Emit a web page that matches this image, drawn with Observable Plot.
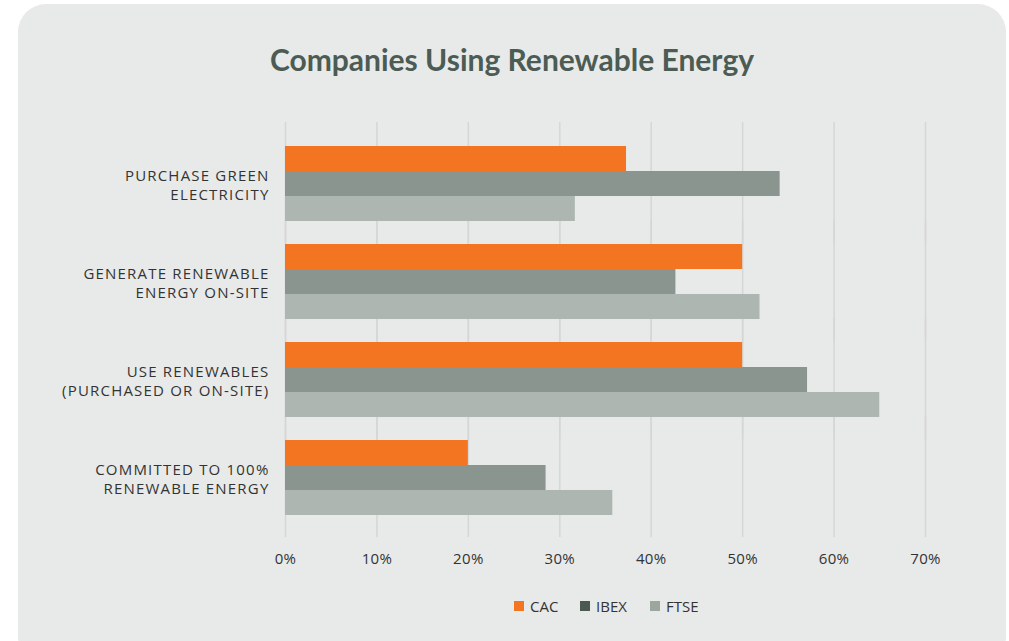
<!DOCTYPE html>
<html>
<head>
<meta charset="utf-8">
<script src="https://cdn.jsdelivr.net/npm/d3@7"></script>
<script src="https://cdn.jsdelivr.net/npm/@observablehq/plot@0.6"></script>
<style>
  html, body { margin: 0; padding: 0; background: #ffffff; }
  body { width: 1009px; height: 641px; position: relative; overflow: hidden; font-family: "Open Sans", sans-serif; }
  #card { position: absolute; left: 18px; top: 4px; width: 988px; height: 660px; border-radius: 28px; background: #E8EAE9; }
  #title { position: absolute; left: 18px; width: 988px; top: 39px; text-align: center; font-family: Lato, sans-serif; font-weight: 700; font-size: 30px; color: #4C5C54; line-height: 40px; margin: 0; }
  #chart { position: absolute; left: 0; top: 100px; }
  #legend { position: absolute; top: 596px; left: 0; width: 1009px; height: 20px; }
  .item { position: absolute; top: 0; display: flex; align-items: center; height: 20px; font-size: 15px; color: #333; }
  .sw { width: 10px; height: 10px; margin-right: 6px; }
  svg g[aria-label="fy-axis tick label"] text { letter-spacing: 1.2px; }
  svg g[aria-label="x-axis tick label"] text { letter-spacing: 0.3px; }
</style>
</head>
<body>
<div id="card"></div>
<h1 id="title">Companies Using Renewable Energy</h1>
<div id="chart"></div>
<div id="legend"></div>
<script>
const categories = [
  "PURCHASE GREEN\nELECTRICITY",
  "GENERATE RENEWABLE\nENERGY ON-SITE",
  "USE RENEWABLES\n(PURCHASED OR ON-SITE)",
  "COMMITTED TO 100%\nRENEWABLE ENERGY"
];
const series = ["CAC", "IBEX", "FTSE"];
const cacValues  = [0.373, 0.500, 0.500, 0.200];
const ibexValues = [0.541, 0.427, 0.571, 0.285];
const ftseValues = [0.317, 0.519, 0.650, 0.358];
const barColors = ["#F47521", "#89958E", "#ADB6B1"];
const legendColors = ["#F47521", "#4B5A51", "#9BA69F"];
const xTicks = [0, 0.1, 0.2, 0.3, 0.4, 0.5, 0.6, 0.7];

const valuesBySeries = [cacValues, ibexValues, ftseValues];
const data = categories.flatMap((cat, i) =>
  series.map((s, j) => ({category: cat, series: s, value: valuesBySeries[j][i]}))
);

const chart = Plot.plot({
  width: 1009,
  height: 478,
  marginTop: 45,
  marginBottom: 61,
  marginLeft: 285,
  marginRight: 84,
  style: {background: "transparent", fontFamily: "'Open Sans', sans-serif", fontSize: "14px", color: "#333", overflow: "visible"},
  x: {domain: [0, 0.7], axis: null},
  fy: {domain: categories, padding: 0.214, axis: null},
  y: {domain: series, padding: 0, axis: null},
  color: {domain: series, range: barColors},
  marks: [
    Plot.ruleX(xTicks, {x: d => d, stroke: "#D4D7D5", strokeWidth: 1.5, insetTop: -23, insetBottom: -21}),
    Plot.barX(data, {x: "value", y: "series", fy: "category", fill: "series"}),
    Plot.axisX({ticks: xTicks, tickFormat: d => Math.round(d * 100) + "%", tickSize: 0, tickPadding: 37, fontSize: 15, fill: "#333", label: null}),
    Plot.axisFy({tickSize: 0, tickPadding: 16, fontSize: 15, lineHeight: 1.27, fill: "#333", label: null, anchor: "left"})
  ]
});
document.getElementById("chart").appendChild(chart);

const legend = document.getElementById("legend");
const legendX = [514, 580, 650];
series.forEach((s, i) => {
  const item = document.createElement("div");
  item.className = "item";
  item.style.left = legendX[i] + "px";
  const sw = document.createElement("span");
  sw.className = "sw";
  sw.style.background = legendColors[i];
  item.appendChild(sw);
  item.appendChild(document.createTextNode(s));
  legend.appendChild(item);
});
</script>
</body>
</html>
